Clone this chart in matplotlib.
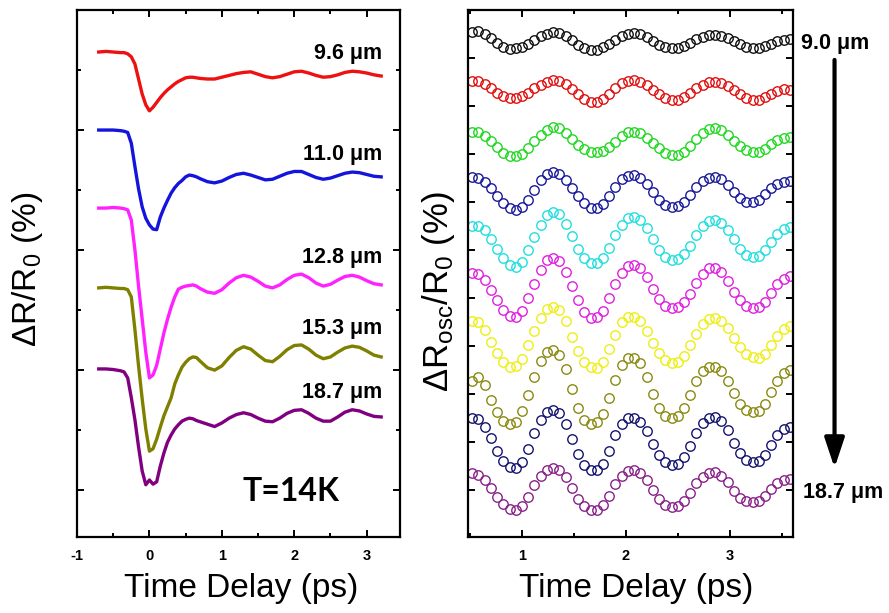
import numpy as np
import matplotlib
matplotlib.use('Agg')
import matplotlib.pyplot as plt
from matplotlib.ticker import MultipleLocator, NullFormatter

plt.rcParams['font.family'] = ['Liberation Sans', 'DejaVu Sans']
plt.rcParams['mathtext.fontset'] = 'custom'
plt.rcParams['mathtext.rm'] = 'Liberation Sans'
plt.rcParams['mathtext.it'] = 'Liberation Sans'
plt.rcParams['mathtext.default'] = 'regular'
plt.rcParams['axes.unicode_minus'] = False

# ---------------- Left panel data (transient reflectivity, offset traces) ----------------
t_left = [-0.70, -0.60, -0.50, -0.40, -0.35, -0.30, -0.25, -0.20, -0.15, -0.10, -0.05,
          0.00, 0.05, 0.10, 0.15, 0.20, 0.25, 0.30, 0.35, 0.40, 0.45, 0.50, 0.55, 0.60,
          0.65, 0.70, 0.80, 0.90, 1.00, 1.10, 1.20, 1.30, 1.40, 1.50, 1.60, 1.70, 1.80,
          1.90, 2.00, 2.10, 2.20, 2.30, 2.40, 2.50, 2.60, 2.70, 2.80, 2.90, 3.00, 3.10, 3.20]

left_labels = ['9.6 μm', '11.0 μm', '12.8 μm', '15.3 μm', '18.7 μm']
left_colors = ['#ee1111', '#1414dd', '#ff22ff', '#808000', '#800080']
left_offsets = [7.30, 6.00, 4.70, 3.37, 2.02]
left_label_y = [7.27, 5.60, 3.87, 2.70, 1.63]

dR_96 = [0.0, 0.01, 0.0, -0.01, -0.01, -0.03, -0.08, -0.20, -0.45, -0.70, -0.88,
         -0.98, -0.92, -0.84, -0.76, -0.69, -0.63, -0.58, -0.53, -0.49, -0.46, -0.43, -0.42, -0.42,
         -0.43, -0.44, -0.45, -0.45, -0.42, -0.39, -0.36, -0.34, -0.33, -0.37, -0.41, -0.43, -0.41,
         -0.37, -0.33, -0.32, -0.35, -0.39, -0.42, -0.41, -0.38, -0.34, -0.32, -0.33, -0.35, -0.38, -0.40]
dR_110 = [0.0, 0.0, 0.0, -0.01, -0.02, -0.04, -0.22, -0.61, -0.98, -1.28, -1.47,
          -1.58, -1.65, -1.66, -1.45, -1.30, -1.17, -1.05, -0.96, -0.89, -0.84, -0.78, -0.75, -0.76,
          -0.78, -0.81, -0.86, -0.88, -0.85, -0.79, -0.74, -0.72, -0.75, -0.79, -0.83, -0.82, -0.77,
          -0.72, -0.69, -0.69, -0.74, -0.79, -0.82, -0.80, -0.76, -0.72, -0.70, -0.71, -0.74, -0.77, -0.78]
dR_128 = [0.0, 0.0, 0.01, 0.0, -0.01, -0.03, -0.20, -0.70, -1.30, -1.85, -2.40,
          -2.83, -2.78, -2.62, -2.35, -2.08, -1.85, -1.65, -1.48, -1.35, -1.32, -1.30, -1.29, -1.28,
          -1.30, -1.34, -1.40, -1.42, -1.36, -1.25, -1.16, -1.12, -1.15, -1.22, -1.30, -1.33, -1.28,
          -1.19, -1.12, -1.10, -1.16, -1.25, -1.30, -1.27, -1.20, -1.14, -1.12, -1.15, -1.21, -1.26, -1.28]
dR_153 = [0.0, 0.01, 0.0, -0.01, -0.01, -0.03, -0.15, -0.70, -1.30, -1.85, -2.35,
          -2.72, -2.68, -2.52, -2.32, -2.13, -1.98, -1.83, -1.60, -1.45, -1.32, -1.24, -1.18, -1.15,
          -1.16, -1.22, -1.33, -1.37, -1.30, -1.16, -1.04, -0.98, -1.02, -1.12, -1.21, -1.23, -1.14,
          -1.03, -0.96, -0.95, -1.02, -1.12, -1.18, -1.15, -1.07, -1.00, -0.97, -0.99, -1.05, -1.12, -1.15]
dR_187 = [0.0, 0.0, -0.01, -0.03, -0.05, -0.15, -0.48, -0.85, -1.30, -1.70, -1.93,
          -1.85, -1.92, -1.88, -1.62, -1.40, -1.22, -1.10, -1.00, -0.93, -0.87, -0.84, -0.82, -0.83,
          -0.86, -0.88, -0.92, -0.96, -0.90, -0.82, -0.76, -0.73, -0.76, -0.82, -0.87, -0.88, -0.82,
          -0.74, -0.69, -0.68, -0.74, -0.82, -0.87, -0.87, -0.80, -0.72, -0.68, -0.70, -0.75, -0.79, -0.80]
left_series = [dR_96, dR_110, dR_128, dR_153, dR_187]

# ---------------- Right panel data (oscillatory part, offset traces) ----------------
t_right = np.round(np.arange(0.52, 3.59, 0.06), 2)

right_colors = ['#111111', '#e01010', '#22d822', '#1a1a9a', '#22dede',
                '#dd22dd', '#eeee14', '#8a8a12', '#14146e', '#882288']
right_offsets = [9.35, 8.33, 7.25, 6.25, 5.21, 4.17, 3.13, 2.08, 1.04, 0.02]

osc_90 = [0.20, 0.22, 0.15, 0.06, -0.04, -0.12, -0.16, -0.15, -0.13, -0.06, 0.02, 0.10, 0.15,
          0.19, 0.18, 0.11, 0.02, -0.07, -0.14, -0.19, -0.18, -0.13, -0.05, 0.03, 0.11, 0.16,
          0.17, 0.14, 0.08, 0.01, -0.07, -0.12, -0.15, -0.14, -0.10, -0.04, 0.04, 0.09, 0.12,
          0.13, 0.11, 0.06, 0.00, -0.06, -0.12, -0.15, -0.14, -0.10, -0.05, 0.00, 0.02, 0.04]
osc_96 = [0.20, 0.19, 0.13, 0.05, -0.05, -0.12, -0.17, -0.16, -0.12, -0.05, 0.04, 0.11, 0.17,
          0.21, 0.20, 0.13, 0.03, -0.08, -0.18, -0.24, -0.24, -0.18, -0.08, 0.04, 0.14, 0.20,
          0.21, 0.18, 0.10, 0.01, -0.09, -0.17, -0.21, -0.20, -0.15, -0.06, 0.04, 0.11, 0.16,
          0.17, 0.14, 0.08, 0.00, -0.09, -0.16, -0.20, -0.21, -0.15, -0.08, -0.02, 0.02, 0.01]
osc_103 = [0.21, 0.20, 0.13, 0.02, -0.11, -0.23, -0.30, -0.30, -0.24, -0.12, 0.02, 0.15, 0.26,
           0.31, 0.29, 0.19, 0.06, -0.06, -0.15, -0.20, -0.21, -0.19, -0.11, 0.01, 0.13, 0.20,
           0.21, 0.18, 0.09, -0.02, -0.13, -0.22, -0.27, -0.27, -0.20, -0.08, 0.06, 0.18, 0.27,
           0.29, 0.25, 0.15, 0.03, -0.09, -0.17, -0.21, -0.20, -0.14, -0.05, 0.04, 0.09, 0.11]
osc_110 = [0.27, 0.26, 0.17, 0.04, -0.12, -0.28, -0.38, -0.42, -0.36, -0.20, 0.00, 0.20, 0.34,
           0.38, 0.33, 0.20, 0.04, -0.13, -0.28, -0.37, -0.38, -0.30, -0.13, 0.06, 0.22, 0.30,
           0.31, 0.26, 0.12, -0.04, -0.20, -0.31, -0.35, -0.33, -0.24, -0.10, 0.06, 0.18, 0.25,
           0.27, 0.22, 0.10, -0.05, -0.17, -0.24, -0.25, -0.20, -0.08, 0.04, 0.12, 0.16, 0.18]
osc_120 = [0.28, 0.30, 0.20, 0.02, -0.18, -0.38, -0.52, -0.56, -0.46, -0.22, 0.06, 0.32, 0.52,
           0.58, 0.54, 0.34, 0.08, -0.18, -0.38, -0.48, -0.48, -0.38, -0.16, 0.10, 0.32, 0.46,
           0.48, 0.42, 0.24, 0.02, -0.20, -0.36, -0.42, -0.40, -0.30, -0.12, 0.10, 0.28, 0.40,
           0.42, 0.36, 0.20, 0.01, -0.18, -0.31, -0.35, -0.33, -0.22, -0.04, 0.12, 0.22, 0.27]
osc_128 = [0.36, 0.34, 0.20, 0.00, -0.22, -0.42, -0.54, -0.56, -0.45, -0.18, 0.12, 0.42, 0.62,
           0.67, 0.60, 0.38, 0.08, -0.22, -0.46, -0.58, -0.57, -0.44, -0.18, 0.12, 0.36, 0.50,
           0.52, 0.45, 0.26, 0.02, -0.20, -0.34, -0.38, -0.36, -0.26, -0.08, 0.14, 0.34, 0.45,
           0.46, 0.38, 0.18, -0.04, -0.22, -0.34, -0.38, -0.36, -0.26, -0.06, 0.12, 0.22, 0.28]
osc_140 = [0.38, 0.36, 0.20, -0.04, -0.28, -0.46, -0.56, -0.54, -0.40, -0.12, 0.18, 0.46, 0.64,
           0.69, 0.62, 0.38, 0.06, -0.24, -0.46, -0.57, -0.58, -0.46, -0.20, 0.10, 0.36, 0.48,
           0.47, 0.38, 0.18, -0.06, -0.28, -0.42, -0.48, -0.46, -0.34, -0.12, 0.12, 0.32, 0.44,
           0.46, 0.40, 0.24, 0.04, -0.16, -0.30, -0.37, -0.38, -0.30, -0.12, 0.08, 0.22, 0.28]
osc_153 = [0.18, 0.27, 0.10, -0.20, -0.46, -0.64, -0.70, -0.66, -0.44, -0.10, 0.28, 0.60, 0.80,
           0.83, 0.74, 0.44, 0.02, -0.38, -0.62, -0.70, -0.66, -0.50, -0.16, 0.22, 0.52, 0.66,
           0.67, 0.56, 0.28, -0.08, -0.38, -0.54, -0.58, -0.54, -0.38, -0.10, 0.20, 0.40, 0.48,
           0.48, 0.40, 0.20, -0.06, -0.28, -0.42, -0.46, -0.43, -0.28, -0.04, 0.20, 0.36, 0.42]
osc_170 = [0.46, 0.44, 0.28, 0.04, -0.22, -0.44, -0.56, -0.58, -0.46, -0.18, 0.14, 0.42, 0.58,
           0.63, 0.56, 0.34, 0.02, -0.30, -0.52, -0.62, -0.63, -0.50, -0.22, 0.10, 0.34, 0.46,
           0.46, 0.38, 0.18, -0.08, -0.32, -0.46, -0.52, -0.50, -0.36, -0.12, 0.14, 0.36, 0.46,
           0.48, 0.40, 0.20, -0.06, -0.28, -0.42, -0.46, -0.44, -0.32, -0.10, 0.10, 0.22, 0.28]
osc_187 = [0.33, 0.30, 0.18, 0.02, -0.16, -0.32, -0.42, -0.44, -0.36, -0.16, 0.08, 0.28, 0.40,
           0.44, 0.40, 0.24, 0.02, -0.20, -0.36, -0.44, -0.44, -0.34, -0.14, 0.10, 0.28, 0.38,
           0.40, 0.34, 0.18, -0.02, -0.20, -0.33, -0.38, -0.36, -0.26, -0.08, 0.12, 0.26, 0.34,
           0.35, 0.28, 0.14, -0.04, -0.18, -0.26, -0.27, -0.24, -0.14, 0.00, 0.12, 0.18, 0.20]
right_series = [osc_90, osc_96, osc_103, osc_110, osc_120,
                osc_128, osc_140, osc_153, osc_170, osc_187]

# ---------------- Figure ----------------
W, H = 889, 613
fig = plt.figure(figsize=(W / 100, H / 100), dpi=100)
axL = fig.add_axes([77 / W, 76 / H, 323 / W, 527 / H])
axR = fig.add_axes([468 / W, 76 / H, 325 / W, 527 / H])

for vals, off, col in zip(left_series, left_offsets, left_colors):
    axL.plot(t_left, np.array(vals) + off, color=col, lw=2.4, solid_joinstyle='round')
for lab, ly in zip(left_labels, left_label_y):
    axL.text(3.22, ly, lab, ha='right', va='center', fontsize=15.5, fontweight='bold')
axL.text(1.96, -0.03, 'T=14K', ha='center', va='center', fontsize=23,
         fontweight='bold', family=['Lato', 'DejaVu Sans'])

axL.set_xlim(-1.0, 3.46)
axL.set_ylim(-0.78, 8.0)
axL.xaxis.set_major_locator(MultipleLocator(1))
axL.xaxis.set_minor_locator(MultipleLocator(0.5))
axL.yaxis.set_major_locator(MultipleLocator(2))
axL.yaxis.set_minor_locator(MultipleLocator(1))
axL.yaxis.set_major_formatter(NullFormatter())

for vals, off, col in zip(right_series, right_offsets, right_colors):
    axR.plot(t_right, np.array(vals) + off, 'o', mfc='none', mec=col, ms=6.8, mew=1.0)

axR.set_xlim(0.48, 3.61)
axR.set_ylim(-0.98, 10.0)
axR.xaxis.set_major_locator(MultipleLocator(1))
axR.xaxis.set_minor_locator(MultipleLocator(0.5))
axR.yaxis.set_major_locator(MultipleLocator(1))
axR.yaxis.set_major_formatter(NullFormatter())

axR.text(3.69, 9.31, '9.0 μm', ha='left', va='center', fontsize=15.5, fontweight='bold')
axR.text(3.71, -0.06, '18.7 μm', ha='left', va='center', fontsize=15.5, fontweight='bold')
axR.annotate('', xy=(4.01, 0.46), xytext=(4.01, 8.96), annotation_clip=False,
             arrowprops=dict(arrowstyle='-|>,head_length=0.9,head_width=0.3',
                             lw=3, color='black', mutation_scale=20,
                             shrinkA=0, shrinkB=0))

for ax in (axL, axR):
    for s in ax.spines.values():
        s.set_linewidth(1.6)
    ax.tick_params(which='both', direction='in', top=True, right=True, width=1.4)
    ax.tick_params(which='major', length=5, pad=9, labelsize=10.5)
    ax.tick_params(which='minor', length=3)
    for lbl in ax.get_xticklabels():
        lbl.set_fontweight('bold')
    ax.set_xlabel('Time Delay (ps)', fontsize=24)

axL.xaxis.set_label_coords(0.509, -0.068)
axR.xaxis.set_label_coords(0.518, -0.068)
axL.set_ylabel('ΔR/R$_0$ (%)', fontsize=24)
axL.yaxis.set_label_coords(-0.10, 0.507)
axR.set_ylabel('ΔR$_{osc}$/R$_0$ (%)', fontsize=25)
axR.yaxis.set_label_coords(-0.035, 0.465)

fig.savefig('out.png', dpi=100)
